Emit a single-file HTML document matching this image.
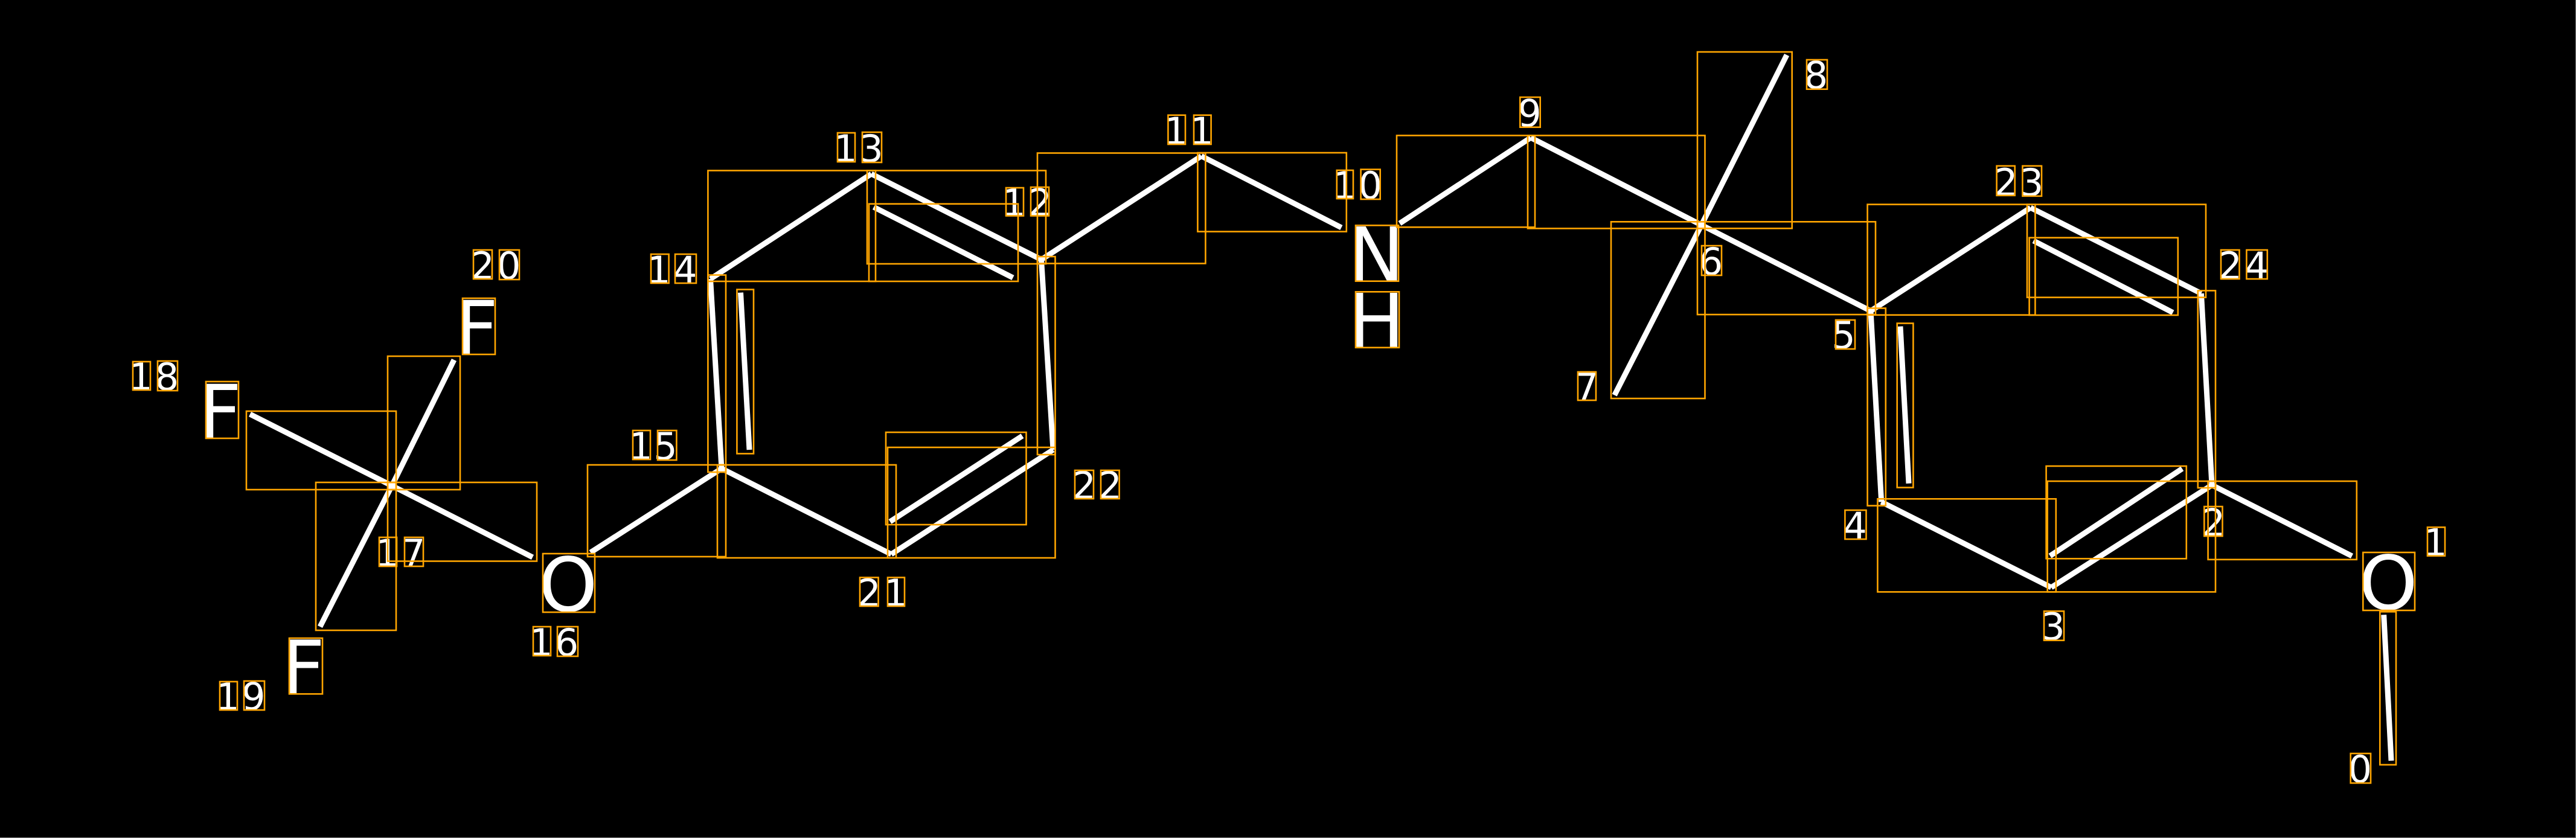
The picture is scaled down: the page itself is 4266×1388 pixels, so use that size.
<!DOCTYPE html>
<html lang="en">
<head>
<meta charset="utf-8">
<title>Molecule diagram</title>
<style>
html,body{margin:0;padding:0;background:#000;width:4266px;height:1388px;overflow:hidden}
svg{display:block}
.b line{stroke:#fff;stroke-width:9;stroke-linecap:butt}
.r rect{fill:none;stroke:#ffa500;stroke-width:2.6}
text{font-family:"DejaVu Sans",sans-serif;fill:#fff}
.d text{font-size:62px}
.a text{font-size:124px}
</style>
</head>
<body>
<svg xmlns="http://www.w3.org/2000/svg" width="4266" height="1388" viewBox="0 0 4266 1388">
<rect x="0" y="0" width="4266" height="1388" fill="#000"/>
<rect x="4265" y="0" width="1" height="1388" fill="#808080"/>
<rect x="0" y="1387" width="4266" height="1" fill="#808080"/>

<g class="b">
<line x1="752" y1="596" x2="649" y2="804.5"/>
<line x1="414" y1="686" x2="649" y2="804.5"/>
<line x1="530" y1="1038" x2="649" y2="804.5"/>
<line x1="882" y1="923" x2="649" y2="804.5"/>
<line x1="978" y1="915" x2="1195" y2="776"/>
<line x1="1195" y1="776" x2="1176.5" y2="462"/>
<line x1="1176.5" y1="462" x2="1443" y2="288"/>
<line x1="1443" y1="288" x2="1724.5" y2="430"/>
<line x1="1724.5" y1="430" x2="1744" y2="745"/>
<line x1="1744" y1="745" x2="1476" y2="918"/>
<line x1="1476" y1="918" x2="1195" y2="776"/>
<line x1="1447" y1="343" x2="1677.5" y2="460"/>
<line x1="1226.5" y1="484.6" x2="1241" y2="745"/>
<line x1="1474" y1="864" x2="1693" y2="722"/>
<line x1="1724.5" y1="430" x2="1989.5" y2="258.5"/>
<line x1="1989.5" y1="258.5" x2="2221.4" y2="377"/>
<line x1="2318" y1="370" x2="2535" y2="228"/>
<line x1="2535" y1="228" x2="2817.7" y2="372.7"/>
<line x1="2817.7" y1="372.7" x2="2959" y2="91"/>
<line x1="2817.7" y1="372.7" x2="2673.7" y2="654.5"/>
<line x1="2817.7" y1="372.7" x2="3098" y2="515"/>
<line x1="3098" y1="515" x2="3362.7" y2="344"/>
<line x1="3362.7" y1="344" x2="3645.4" y2="486"/>
<line x1="3645.4" y1="486" x2="3663" y2="803.4"/>
<line x1="3663" y1="803.4" x2="3397" y2="973"/>
<line x1="3397" y1="973" x2="3115.7" y2="831.4"/>
<line x1="3115.7" y1="831.4" x2="3098" y2="515"/>
<line x1="3367.6" y1="398.8" x2="3598.4" y2="517.7"/>
<line x1="3147" y1="540.6" x2="3161" y2="800.8"/>
<line x1="3395" y1="920.7" x2="3613.8" y2="776.3"/>
<line x1="3663" y1="803.4" x2="3895" y2="921"/>
<line x1="3947.7" y1="1018.3" x2="3960" y2="1260"/>
</g>

<g class="a">
<text x="753.8" y="587">F</text>
<text x="328.8" y="726">F</text>
<text x="466.8" y="1149.4">F</text>
<text x="892" y="1012">O</text>
<text x="2233" y="465.7">N</text>
<text x="2233" y="575.7">H</text>
<text x="3906.3" y="1009">O</text>
</g>

<g class="d">
<text x="3888.6" y="1296">0</text>
<text x="4013.2" y="920.7">1</text>
<text x="3645.8" y="887.5">2</text>
<text x="3380.3" y="1059.7">3</text>
<text x="3052.4" y="893">4</text>
<text x="3033.3" y="577">5</text>
<text x="2813.7" y="455">6</text>
<text x="2607.9" y="663">7</text>
<text x="2987.8" y="146.7">8</text>
<text x="2513.4" y="209.7">9</text>
<text x="2207" y="329">1</text><text x="2249.5" y="329">0</text>
<text x="1927.6" y="239">1</text><text x="1970.2" y="239">1</text>
<text x="1659.2" y="357.5">1</text><text x="1702.5" y="357.5">2</text>
<text x="1380.2" y="268">1</text><text x="1423.3" y="268">3</text>
<text x="1071.2" y="469">1</text><text x="1115" y="469">4</text>
<text x="1041.2" y="761">1</text><text x="1082.3" y="761">5</text>
<text x="876.2" y="1086">1</text><text x="918.7" y="1086">6</text>
<text x="621.2" y="938">1</text><text x="664.9" y="938">7</text>
<text x="213.2" y="646">1</text><text x="256.8" y="646">8</text>
<text x="357.2" y="1176">1</text><text x="400.1" y="1175.5">9</text>
<text x="779.5" y="462">2</text><text x="822.9" y="462">0</text>
<text x="1419.5" y="1004">2</text><text x="1463.2" y="1004">1</text>
<text x="1775.5" y="826">2</text><text x="1818.5" y="826">2</text>
<text x="3302.1" y="323.8">2</text><text x="3344.7" y="323.8">3</text>
<text x="3673.5" y="462">2</text><text x="3717.4" y="462">4</text>
</g>

<g class="r">
<!-- bond boxes -->
<rect x="642" y="590" width="120" height="221"/>
<rect x="408" y="681" width="248" height="130"/>
<rect x="523" y="799" width="133" height="245"/>
<rect x="642" y="799" width="247" height="130.5"/>
<rect x="973" y="770" width="229" height="152"/>
<rect x="1172.4" y="282.5" width="277.6" height="183.5"/>
<rect x="1436" y="282.5" width="296" height="154.5"/>
<rect x="1439" y="337.7" width="247" height="128.3"/>
<rect x="1718" y="253.5" width="278.4" height="182.9"/>
<rect x="1718" y="425" width="29.5" height="328"/>
<rect x="1172.4" y="455.5" width="29.6" height="326.5"/>
<rect x="1220.4" y="479.5" width="27.6" height="271.9"/>
<rect x="1188" y="770" width="296" height="154"/>
<rect x="1470" y="741" width="277.5" height="183"/>
<rect x="1467" y="716" width="232.5" height="153"/>
<rect x="1983.4" y="253" width="246.4" height="130.6"/>
<rect x="2313" y="224.4" width="229" height="151.9"/>
<rect x="2530" y="224.4" width="293.5" height="154"/>
<rect x="2811" y="86" width="156.7" height="292.3"/>
<rect x="2668" y="367.3" width="155.5" height="292.7"/>
<rect x="2811" y="367.3" width="295" height="153.7"/>
<rect x="3092.6" y="338.6" width="277.8" height="183.1"/>
<rect x="3357" y="338.6" width="296" height="154"/>
<rect x="3360.6" y="393.7" width="246.2" height="128.3"/>
<rect x="3639.8" y="481.4" width="29.2" height="326.6"/>
<rect x="3092.6" y="510.5" width="30.2" height="327.1"/>
<rect x="3141.7" y="535.5" width="26.7" height="272"/>
<rect x="3109.4" y="826.3" width="295.4" height="154.1"/>
<rect x="3390.7" y="797" width="278.3" height="183.4"/>
<rect x="3388.6" y="772" width="232.2" height="153.3"/>
<rect x="3656.6" y="797" width="246.2" height="129.8"/>
<rect x="3941.3" y="1013.3" width="26.7" height="253.4"/>
<!-- atom glyph boxes -->
<rect x="766" y="494" width="54" height="93"/>
<rect x="341" y="632" width="54" height="94"/>
<rect x="479" y="1057" width="55" height="92.4"/>
<rect x="899" y="917" width="86" height="97"/>
<rect x="2245" y="373.3" width="71" height="92.4"/>
<rect x="2245" y="483.3" width="72" height="92.4"/>
<rect x="3913.3" y="915" width="85.7" height="96"/>
<!-- digit boxes -->
<rect x="3892.7" y="1248" width="33.3" height="49"/>
<rect x="4020" y="873.3" width="29" height="47.4"/>
<rect x="3650.3" y="839" width="30.2" height="49"/>
<rect x="3385" y="1012.3" width="33" height="48.4"/>
<rect x="3055.4" y="845" width="35.1" height="48"/>
<rect x="3040" y="530" width="32" height="48"/>
<rect x="2818" y="407" width="33" height="49"/>
<rect x="2613" y="616" width="30" height="47"/>
<rect x="2992" y="99" width="34" height="48.7"/>
<rect x="2517.3" y="161" width="33.4" height="49.7"/>
<rect x="2213.8" y="282" width="27.2" height="47"/><rect x="2253.6" y="280.6" width="32.1" height="49.4"/>
<rect x="1934.4" y="190.7" width="28.6" height="48.3"/><rect x="1977" y="190.7" width="28.6" height="48.3"/>
<rect x="1666" y="311" width="29" height="46.5"/><rect x="1707" y="310" width="30" height="47.5"/>
<rect x="1387" y="220" width="29" height="48"/><rect x="1428" y="219" width="32" height="50"/>
<rect x="1078" y="421" width="29.6" height="48"/><rect x="1118" y="421" width="35" height="48"/>
<rect x="1048" y="713" width="29" height="48"/><rect x="1089" y="713" width="31.4" height="49"/>
<rect x="883" y="1038" width="29" height="48"/><rect x="923" y="1038" width="34" height="49"/>
<rect x="628" y="890" width="29" height="48"/><rect x="670" y="890" width="31" height="48"/>
<rect x="220" y="599" width="29" height="47"/><rect x="261" y="598" width="33" height="49"/>
<rect x="364" y="1129" width="29" height="47"/><rect x="404" y="1128" width="34" height="48"/>
<rect x="784" y="414" width="31" height="48"/><rect x="827" y="414" width="33" height="49"/>
<rect x="1424" y="956.5" width="30.6" height="47.5"/><rect x="1470" y="956.5" width="28" height="47.5"/>
<rect x="1780" y="779" width="31" height="47"/><rect x="1823" y="779" width="30.6" height="47"/>
<rect x="3306.6" y="274.8" width="30.1" height="49"/><rect x="3349.4" y="274.8" width="31.6" height="50"/>
<rect x="3678" y="414" width="30.5" height="48"/><rect x="3720.4" y="414" width="34.4" height="48"/>
</g>
</svg>
</body>
</html>
